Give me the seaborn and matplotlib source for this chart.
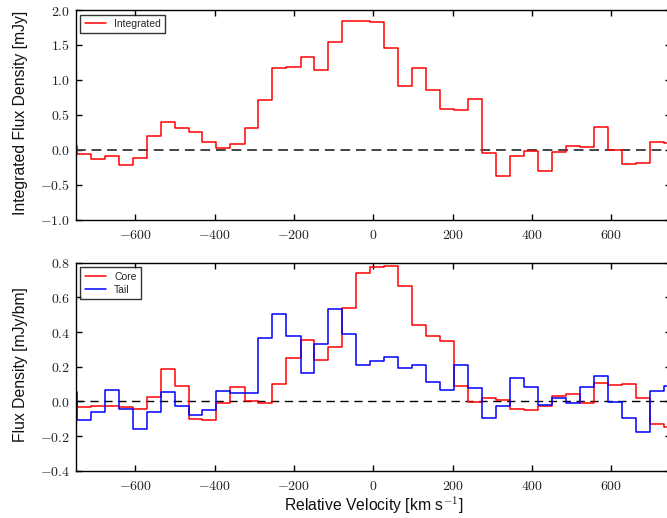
import numpy as np
import pandas as pd
import matplotlib
matplotlib.use("Agg")
import matplotlib.pyplot as plt
from matplotlib.ticker import FuncFormatter, FixedLocator
import seaborn as sns

# channel centre velocities [km/s]
velocity = [-765, -730, -695, -659, -624, -589, -554, -518, -483, -448,
            -413, -378, -342, -307, -272, -237, -201, -166, -131, -96,
            -60, -25, 10, 45, 80, 116, 151, 186, 221, 257,
            292, 327, 362, 398, 433, 468, 503, 538, 574, 609,
            644, 679, 715, 750]

integrated = [0.047, -0.057, -0.133, -0.095, -0.214, -0.114, 0.20, 0.39, 0.314, 0.248,
              0.105, 0.024, 0.086, 0.31, 0.71, 1.176, 1.19, 1.33, 1.143, 1.538,
              1.847, 1.847, 1.833, 1.457, 0.91, 1.171, 0.852, 0.581, 0.571, 0.724,
              -0.052, -0.381, -0.09, -0.014, -0.30, -0.038, 0.057, 0.038, 0.324, 0.0,
              -0.205, -0.186, 0.114, 0.095]

core = [-0.011, -0.034, -0.025, -0.025, -0.030, -0.042, 0.027, 0.189, 0.089, -0.102,
        -0.105, -0.011, 0.081, 0.004, -0.007, 0.098, 0.252, 0.352, 0.241, 0.316,
        0.539, 0.743, 0.777, 0.781, 0.666, 0.439, 0.379, 0.349, 0.089, -0.002,
        0.020, 0.008, -0.044, -0.048, -0.025, 0.031, 0.041, -0.007, 0.108, 0.095,
        0.102, 0.018, -0.132, -0.149]

tail = [0.056, -0.107, -0.063, 0.066, -0.042, -0.157, -0.059, 0.056, -0.028, -0.080,
        -0.052, 0.060, 0.047, 0.047, 0.368, 0.504, 0.376, 0.166, 0.331, 0.531,
        0.389, 0.212, 0.235, 0.258, 0.193, 0.208, 0.114, 0.068, 0.208, 0.075,
        -0.096, -0.028, 0.133, 0.081, -0.023, 0.020, -0.007, 0.081, 0.146, -0.003,
        -0.098, -0.175, 0.062, 0.089]

xticks = [-600, -400, -200, 0, 200, 400, 600]
yticks_top = [-1.0, -0.5, 0.0, 0.5, 1.0, 1.5, 2.0]
yticks_bot = [-0.4, -0.2, 0.0, 0.2, 0.4, 0.6, 0.8]

sns.set_style("ticks")
plt.rcParams["font.family"] = ["Liberation Sans", "DejaVu Sans"]
plt.rcParams["mathtext.fontset"] = "cm"

W, H = 667, 518
fig = plt.figure(figsize=(W / 100, H / 100), dpi=100)
left_px, right_px = 75.7, 671.0
ax1 = fig.add_axes([left_px / W, 1 - 219.5 / H, (right_px - left_px) / W, 209.5 / H])
ax2 = fig.add_axes([left_px / W, 1 - 470.7 / H, (right_px - left_px) / W, 208.0 / H])

df = pd.DataFrame({"velocity": velocity, "integrated": integrated,
                   "core": core, "tail": tail})

sns.lineplot(data=df, x="velocity", y="integrated", ax=ax1, color="red",
             drawstyle="steps-mid", lw=1.1, label="Integrated", estimator=None)
sns.lineplot(data=df, x="velocity", y="core", ax=ax2, color="red",
             drawstyle="steps-mid", lw=1.1, label="Core", estimator=None)
sns.lineplot(data=df, x="velocity", y="tail", ax=ax2, color="blue",
             drawstyle="steps-mid", lw=1.1, label="Tail", estimator=None)

ax1.axhline(0, color="#444444", ls=(0, (5, 3)), lw=1.4, zorder=1)
ax2.axhline(0, color="black", ls=(0, (6, 4)), lw=1.0, zorder=1)

for ax, yt in ((ax1, yticks_top), (ax2, yticks_bot)):
    ax.set_xlim(-750, 750)
    ax.set_ylim(yt[0], yt[-1])
    ax.xaxis.set_major_locator(FixedLocator(xticks))
    ax.yaxis.set_major_locator(FixedLocator(yt))
    ax.xaxis.set_major_formatter(FuncFormatter(lambda v, p: "$%d$" % int(round(v))))
    ax.yaxis.set_major_formatter(FuncFormatter(lambda v, p: "$%.1f$" % v))
    ax.tick_params(direction="in", top=True, right=True, length=4, width=1.0,
                   labelsize=10, color="black", labelcolor="#222222")
    ax.tick_params(axis="x", pad=6)
    ax.tick_params(axis="y", pad=4)
    for s in ax.spines.values():
        s.set_color("black")
        s.set_linewidth(1.0)
        s.set_visible(True)
    ax.set_xlabel("")
    ax.set_ylabel("")
    ax.grid(False)
    leg = ax.legend(loc="upper left", fontsize=7.5, frameon=True, fancybox=False,
                    handlelength=2.1, borderpad=0.4, labelspacing=0.3,
                    handletextpad=0.75, borderaxespad=0.45)
    leg.get_frame().set_edgecolor("black")
    leg.get_frame().set_linewidth(1.0)

fig.text(21 / W, 1 - 113 / H, "Integrated Flux Density [mJy]", rotation=90,
         ha="center", va="center", fontsize=11.3, color="#111111")
fig.text(21 / W, 1 - 364.5 / H, "Flux Density [mJy/bm]", rotation=90,
         ha="center", va="center", fontsize=11.3, color="#111111")
fig.text(373.5 / W, 1 - 505.5 / H, r"Relative Velocity [km s$^{\mathsf{-1}}$]",
         ha="center", va="center", fontsize=11.3, color="#111111")

fig.savefig("out.png", dpi=100)
